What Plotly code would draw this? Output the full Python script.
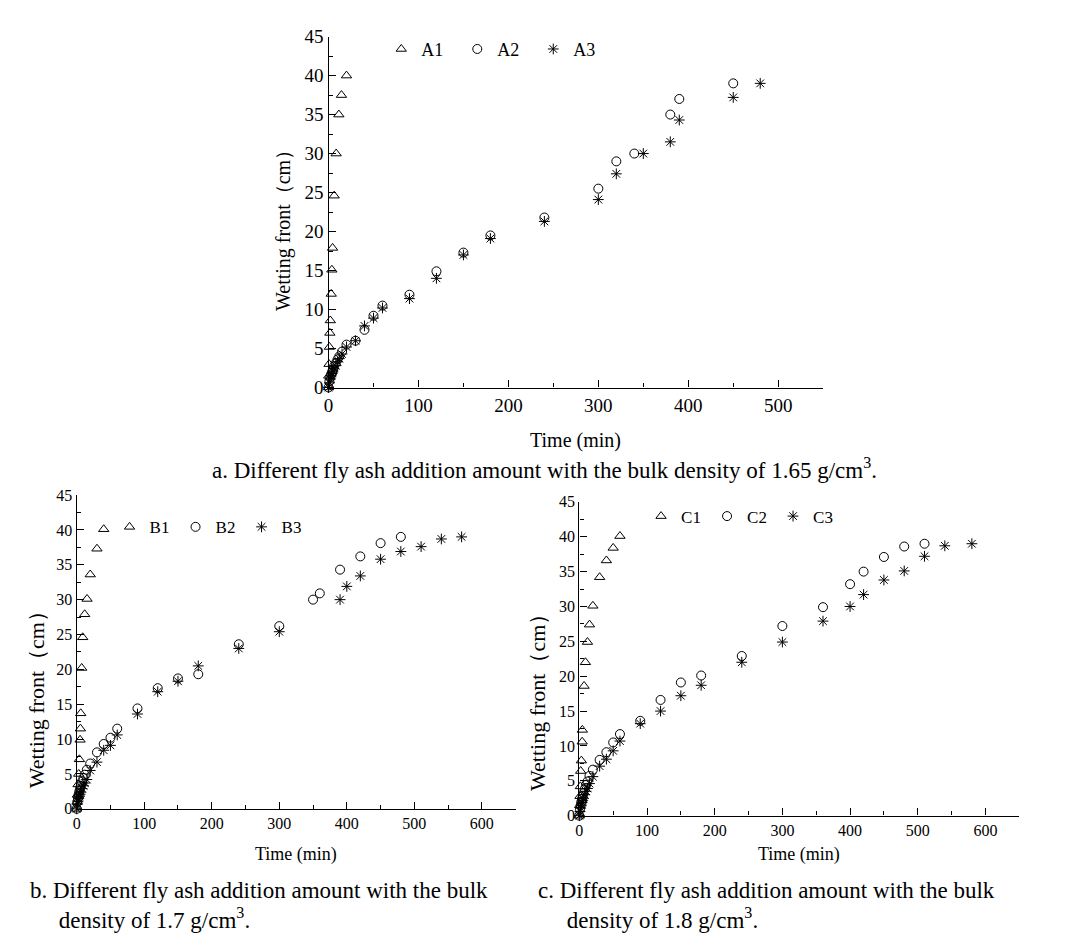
import plotly.graph_objects as go

# ---------------- data ----------------
# Panel a (bulk density 1.65 g/cm3)
a1_t = [0, 0.3, 0.6, 1, 1.5, 2, 3, 3.7, 4.5, 6.3, 8.5, 11.5, 14.4, 20]
a1_y = [0, 1.5, 3.0, 5.2, 7.0, 8.6, 12.0, 15.1, 17.9, 24.6, 30.0, 35.0, 37.5, 40.0]
a2_t = [0, 1, 2, 3, 4, 5, 6, 8, 10, 12, 15, 20, 30, 40, 50, 60, 90, 120, 150, 180, 240, 300, 320, 340, 380, 390, 450]
a2_y = [0, 0.8, 1.3, 1.7, 2.0, 2.3, 2.7, 3.1, 3.6, 4.0, 4.6, 5.5, 6.0, 7.4, 9.2, 10.5, 11.9, 14.9, 17.3, 19.5, 21.8, 25.5, 29.0, 30.0, 35.0, 37.0, 39.0]
a3_t = [0, 1, 2, 3, 4, 5, 6, 8, 10, 12, 15, 20, 30, 40, 50, 60, 90, 120, 150, 180, 240, 300, 320, 350, 380, 390, 450, 480]
a3_y = [0, 0.6, 1.1, 1.5, 1.8, 2.1, 2.4, 2.8, 3.3, 3.7, 4.3, 5.2, 6.0, 7.9, 8.9, 10.2, 11.4, 14.0, 17.0, 19.1, 21.3, 24.1, 27.4, 30.0, 31.5, 34.3, 37.2, 39.0]

# Panel b (bulk density 1.7 g/cm3)
b1_t = [0, 0.5, 1, 2, 3, 4, 5, 5.5, 6, 7.4, 8.9, 11.8, 15.3, 20, 30, 40]
b1_y = [0, 1.0, 2.0, 3.5, 5.0, 7.1, 9.9, 11.5, 13.7, 20.2, 24.6, 27.9, 30.1, 33.6, 37.3, 40.1]
b2_t = [0, 1, 2, 3, 4, 5, 6, 8, 10, 12, 15, 20, 30, 40, 50, 60, 90, 120, 150, 180, 240, 300, 350, 360, 390, 420, 450, 480]
b2_y = [0, 1.0, 1.6, 2.1, 2.5, 2.9, 3.3, 3.9, 4.4, 4.9, 5.6, 6.5, 8.1, 9.3, 10.2, 11.5, 14.4, 17.3, 18.7, 19.3, 23.6, 26.2, 30.0, 30.9, 34.3, 36.2, 38.1, 39.0]
b3_t = [0, 1, 2, 3, 4, 5, 6, 8, 10, 12, 15, 20, 30, 40, 50, 60, 90, 120, 150, 180, 240, 300, 390, 400, 420, 450, 480, 510, 540, 570]
b3_y = [0, 0.7, 1.1, 1.5, 1.8, 2.1, 2.4, 2.9, 3.3, 3.7, 4.2, 5.5, 6.7, 8.4, 9.1, 10.6, 13.6, 16.8, 18.3, 20.5, 23.0, 25.4, 30.0, 31.9, 33.4, 35.8, 36.9, 37.6, 38.7, 39.0]

# Panel c (bulk density 1.8 g/cm3)
c1_t = [0, 0.5, 1, 1.5, 2, 3, 4.2, 4.4, 7, 9, 12, 15, 20, 30, 40, 50, 60]
c1_y = [0, 1.5, 2.8, 4.2, 6.4, 7.9, 10.6, 12.3, 18.6, 22.0, 24.9, 27.4, 30.1, 34.2, 36.6, 38.4, 40.1]
c2_t = [0, 1, 2, 3, 4, 5, 6, 8, 10, 12, 15, 20, 30, 40, 50, 60, 90, 120, 150, 180, 240, 300, 360, 400, 420, 450, 480, 510]
c2_y = [0, 0.9, 1.5, 2.0, 2.4, 2.8, 3.2, 3.8, 4.4, 4.9, 5.7, 6.6, 8.0, 9.1, 10.5, 11.7, 13.6, 16.6, 19.1, 20.1, 22.9, 27.2, 29.9, 33.2, 35.0, 37.1, 38.6, 39.0]
c3_t = [0, 1, 2, 3, 4, 5, 6, 8, 10, 12, 15, 20, 30, 40, 50, 60, 90, 120, 150, 180, 240, 300, 360, 400, 420, 450, 480, 510, 540, 580]
c3_y = [0, 0.6, 1.1, 1.5, 1.9, 2.2, 2.5, 3.0, 3.5, 3.9, 4.6, 5.6, 7.1, 8.1, 9.3, 10.7, 13.2, 15.0, 17.2, 18.7, 22.0, 24.9, 27.9, 30.0, 31.7, 33.8, 35.1, 37.2, 38.7, 39.0]

y_ticks = [0, 5, 10, 15, 20, 25, 30, 35, 40, 45]

FONT = "Liberation Serif, Times New Roman, serif"
W, H = 1068, 935


def px(x):
    return x / W


def py(y):
    return 1 - y / H


fig = go.Figure()

sym = {1: "triangle-up-open", 2: "circle-open", 3: "asterisk-open"}
panels = [
    ("A", [(a1_t, a1_y), (a2_t, a2_y), (a3_t, a3_y)], "x", "y", "legend"),
    ("B", [(b1_t, b1_y), (b2_t, b2_y), (b3_t, b3_y)], "x2", "y2", "legend2"),
    ("C", [(c1_t, c1_y), (c2_t, c2_y), (c3_t, c3_y)], "x3", "y3", "legend3"),
]
for letter, series, xa, ya, lg in panels:
    for i, (t, v) in enumerate(series, start=1):
        fig.add_trace(go.Scatter(
            x=t, y=v, mode="markers", name=f"{letter}{i}",
            xaxis=xa, yaxis=ya, legend=lg,
            marker=dict(symbol=sym[i], size=9, color="black",
                        line=dict(color="black", width=1)),
            cliponaxis=False,
        ))


def xaxis(domain, rng, anchor, fs):
    return dict(domain=domain, range=rng, anchor=anchor, dtick=100, tick0=0,
                showline=True, linecolor="black", linewidth=1.4, ticks="inside",
                ticklen=7, tickwidth=1.2, tickcolor="black", showgrid=False,
                zeroline=False, tickfont=dict(family=FONT, size=fs, color="black"),
                minor=dict(ticks="inside", ticklen=4, dtick=50, tickcolor="black", tickwidth=1),
                fixedrange=True)


def yaxis(domain, anchor, fs):
    return dict(domain=domain, range=[0, 45], anchor=anchor, tickvals=y_ticks,
                showline=True, linecolor="black", linewidth=1.4, ticks="inside",
                ticklen=7, tickwidth=1.2, tickcolor="black", showgrid=False,
                zeroline=False, tickfont=dict(family=FONT, size=fs, color="black"),
                minor=dict(ticks="inside", ticklen=4, dtick=2.5, tick0=0, tickcolor="black", tickwidth=1),
                fixedrange=True)


def legend(x, y, fs, ew):
    return dict(orientation="h", x=x, y=y, xanchor="left", yanchor="middle",
                font=dict(family=FONT, size=fs, color="black"), bgcolor="rgba(0,0,0,0)",
                entrywidth=ew, entrywidthmode="pixels", itemwidth=30)


fig.update_layout(
    width=W, height=H, margin=dict(l=0, r=0, t=0, b=0),
    paper_bgcolor="white", plot_bgcolor="white", showlegend=True,
    font=dict(family=FONT, color="black"),
    xaxis=xaxis([px(317), px(814)], [0, 550], "y", 19),
    yaxis=yaxis([py(378), py(19)], "x", 19),
    xaxis2=xaxis([px(64), px(505)], [0, 650], "y2", 16),
    yaxis2=yaxis([py(809), py(488)], "x2", 16),
    xaxis3=xaxis([px(569), px(1011)], [0, 650], "y3", 16),
    yaxis3=yaxis([py(816), py(495)], "x3", 16),
    legend=legend(px(370), py(32), 18, 31),
    legend2=legend(px(97), py(521), 17, 21),
    legend3=legend(px(631), py(510), 17, 21),
)

ann = []
def add(text, x, y, size, angle=0, xanchor="center", align="center"):
    ann.append(dict(text=text, x=px(x), y=py(y), xref="paper", yref="paper",
                    showarrow=False, textangle=angle, xanchor=xanchor, yanchor="middle",
                    align=align, font=dict(family=FONT, size=size, color="black")))

IND = "\u00a0" * 5
add("Wetting front（cm）", 272, 212, 20, -90)
add("Time (min)", 565, 432, 20)
add("a. Different fly ash addition amount with the bulk density of 1.65 g/cm<sup>3</sup>.", 534, 461, 23)

add("Wetting front（cm）", 24, 692, 22, -90)
add("Time (min)", 284, 856, 18)
add("b. Different fly ash addition amount with the bulk<br>" + IND + "density of 1.7 g/cm<sup>3</sup>.",
    15, 908, 23, xanchor="left", align="left")

add("Wetting front（cm）", 527, 695, 22, -90)
add("Time (min)", 790, 856, 18)
add("c. Different fly ash addition amount with the bulk<br>" + IND + "density of 1.8 g/cm<sup>3</sup>.",
    525, 908, 23, xanchor="left", align="left")

fig.update_layout(annotations=ann)
fig.write_html("out.html")
